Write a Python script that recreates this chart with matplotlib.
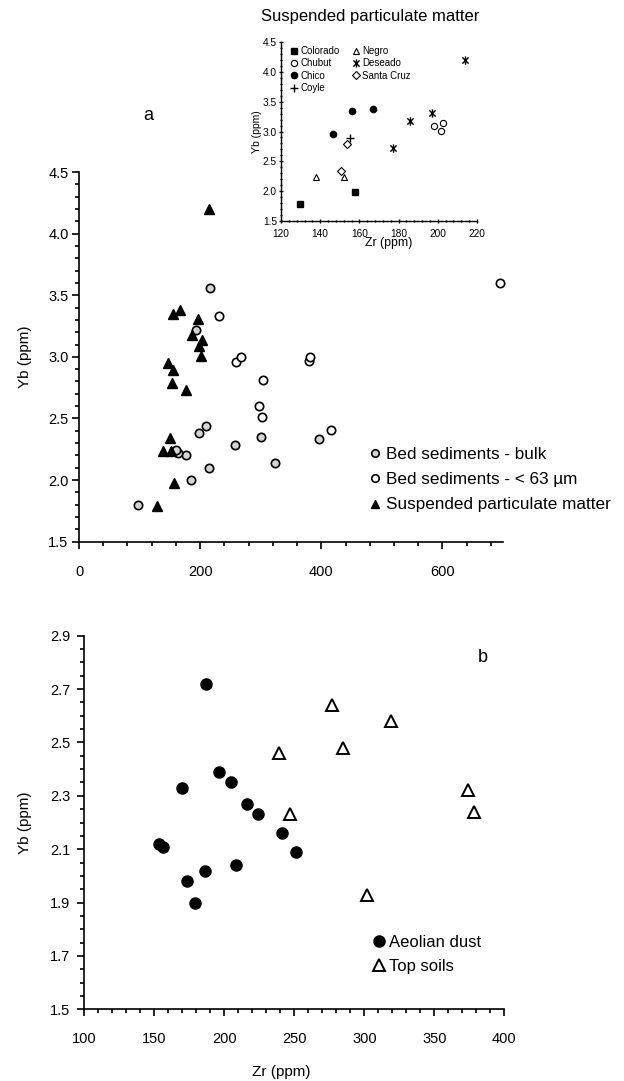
import matplotlib
matplotlib.use("Agg")
import matplotlib.pyplot as plt
from matplotlib.path import Path
from matplotlib.ticker import MultipleLocator, FormatStrFormatter

plt.rcParams["font.family"] = ["Liberation Sans", "DejaVu Sans"]

# ---- Suspended particulate matter, by river (Zr ppm, Yb ppm) ----
colorado_zr = [129.5, 157.5]
colorado_yb = [1.79, 1.98]
negro_zr = [138, 152]
negro_yb = [2.24, 2.24]
chico_zr = [146.5, 156, 167]
chico_yb = [2.95, 3.35, 3.38]
coyle_zr = [155]
coyle_yb = [2.89]
santacruz_zr = [153.5, 150.5]
santacruz_yb = [2.79, 2.34]
chubut_zr = [198, 201.5, 202.5]
chubut_yb = [3.09, 3.01, 3.14]
deseado_zr = [177, 186, 197, 214]
deseado_yb = [2.73, 3.18, 3.31, 4.20]

# ---- Bed sediments ----
bulk_zr = [98, 185, 214, 177, 164, 160, 198, 210, 258, 217, 193, 396, 300, 324]
bulk_yb = [1.80, 2.00, 2.10, 2.20, 2.22, 2.245, 2.385, 2.44, 2.285, 3.56, 3.22, 2.33, 2.35, 2.14]
fine_zr = [231, 260, 267, 304, 297, 302, 379, 381, 416, 695]
fine_yb = [3.33, 2.96, 3.00, 2.815, 2.60, 2.51, 2.97, 3.00, 2.41, 3.60]

# ---- Panel b: aeolian dust and top soils ----
dust_zr = [187, 196, 205, 170, 216, 224, 241, 251, 153, 156, 173, 186, 179, 208]
dust_yb = [2.72, 2.39, 2.35, 2.33, 2.27, 2.23, 2.16, 2.09, 2.12, 2.11, 1.98, 2.02, 1.90, 2.04]
soil_zr = [277, 319, 285, 239, 247, 374, 378, 302]
soil_yb = [2.64, 2.58, 2.48, 2.46, 2.23, 2.32, 2.24, 1.93]

W, H = 624, 1081
fig = plt.figure(figsize=(W / 100, H / 100), dpi=100)


def axes_px(left, top, right, bottom):
    return fig.add_axes([left / W, 1 - bottom / H, (right - left) / W, (bottom - top) / H])


def excel_style(ax, lw=1.2, major=5, minor=3, size=10.5):
    for s in ("top", "right"):
        ax.spines[s].set_visible(False)
    for s in ("left", "bottom"):
        ax.spines[s].set_linewidth(lw)
    ax.tick_params(which="major", direction="out", length=major, width=lw,
                   labelsize=size, colors="black")
    ax.tick_params(which="minor", direction="out", length=minor, width=lw)
    ax.set_facecolor("none")


# asterisk-like marker (vertical bar plus cross)
star = Path([(0, -1), (0, 1), (-0.75, -0.75), (0.75, 0.75), (-0.75, 0.75), (0.75, -0.75)],
            [Path.MOVETO, Path.LINETO] * 3)

spm_zr = colorado_zr + negro_zr + chico_zr + coyle_zr + santacruz_zr + chubut_zr + deseado_zr
spm_yb = colorado_yb + negro_yb + chico_yb + coyle_yb + santacruz_yb + chubut_yb + deseado_yb

# ================= Panel a =================
axa = axes_px(79, 172, 503, 541.7)
excel_style(axa)
axa.set_xlim(0, 700)
axa.set_ylim(1.5, 4.5)
axa.xaxis.set_major_locator(MultipleLocator(200))
axa.xaxis.set_minor_locator(MultipleLocator(40))
axa.yaxis.set_major_locator(MultipleLocator(0.5))
axa.yaxis.set_minor_locator(MultipleLocator(0.1))
axa.yaxis.set_major_formatter(FormatStrFormatter("%.1f"))
axa.tick_params(axis="x", pad=12)
axa.tick_params(axis="y", pad=2.5)

axa.plot(bulk_zr, bulk_yb, "o", ms=6, mfc="#d4d4d4", mec="black", mew=1.2,
         ls="none", label="Bed sediments - bulk", clip_on=False)
axa.plot(fine_zr, fine_yb, "o", ms=6, mfc="white", mec="black", mew=1.2,
         ls="none", label="Bed sediments - < 63 µm", clip_on=False)
axa.plot(spm_zr, spm_yb, "^", ms=7, mfc="black", mec="black", ls="none",
         label="Suspended particulate matter", clip_on=False)
axa.set_ylabel("Yb (ppm)", fontsize=11)
axa.yaxis.set_label_coords(-0.1285, 0.5)
axa.yaxis.label.set_va("center")

axa.legend(loc="upper left", bbox_to_anchor=(370 / W, 1 - 447 / H),
           bbox_transform=fig.transFigure, frameon=False, fontsize=12.3,
           handlelength=0.6, handletextpad=0.35, labelspacing=0.6,
           borderpad=0, borderaxespad=0, markerscale=0.9)

fig.text(148 / W, 1 - 115 / H, "a", fontsize=13, ha="center", va="center")

# ================= Inset =================
axi = axes_px(281, 42, 477, 221)
excel_style(axi, lw=1.0, major=3, minor=2, size=7.3)
axi.tick_params(which="both", direction="inout")
axi.set_xlim(120, 220)
axi.set_ylim(1.5, 4.5)
axi.xaxis.set_major_locator(MultipleLocator(20))
axi.xaxis.set_minor_locator(MultipleLocator(4))
axi.yaxis.set_major_locator(MultipleLocator(0.5))
axi.yaxis.set_minor_locator(MultipleLocator(0.1))
axi.yaxis.set_major_formatter(FormatStrFormatter("%.1f"))
axi.tick_params(axis="x", pad=4)
axi.tick_params(axis="y", pad=1.5)

axi.plot(colorado_zr, colorado_yb, "s", ms=5, mfc="black", mec="black", ls="none", label="Colorado")
axi.plot(chubut_zr, chubut_yb, "o", ms=4.5, mfc="white", mec="black", mew=0.8, ls="none", label="Chubut")
axi.plot(chico_zr, chico_yb, "o", ms=4.5, mfc="black", mec="black", ls="none", label="Chico")
axi.plot(coyle_zr, coyle_yb, "+", ms=6, mec="black", mew=1.0, ls="none", label="Coyle")
axi.plot(negro_zr, negro_yb, "^", ms=5, mfc="white", mec="black", mew=0.8, ls="none", label="Negro")
axi.plot(deseado_zr, deseado_yb, marker=star, ms=6, mec="black", mew=1.0, ls="none", label="Deseado")
axi.plot(santacruz_zr, santacruz_yb, "D", ms=3.8, mfc="white", mec="black", mew=0.8, ls="none", label="Santa Cruz")
axi.set_xlabel("Zr (ppm)", fontsize=8.8)
axi.xaxis.set_label_coords(0.547, -0.125)
axi.xaxis.label.set_va("center")
axi.set_ylabel("Yb (ppm)", fontsize=7.5)
axi.yaxis.set_label_coords(-0.12, 0.5)
axi.yaxis.label.set_va("center")
axi.legend(loc="upper left", bbox_to_anchor=(290 / W, 1 - 46 / H),
           bbox_transform=fig.transFigure, ncol=2, frameon=False, fontsize=7,
           handlelength=0.8, handletextpad=0.3, labelspacing=0.25,
           columnspacing=1.2, borderpad=0, borderaxespad=0)

fig.text(370 / W, 1 - 16 / H, "Suspended particulate matter", fontsize=12,
         ha="center", va="center")

# ================= Panel b =================
axb = axes_px(84.3, 635.7, 504.3, 1009.3)
excel_style(axb)
axb.set_xlim(100, 400)
axb.set_ylim(1.5, 2.9)
axb.xaxis.set_major_locator(MultipleLocator(50))
axb.xaxis.set_minor_locator(MultipleLocator(10))
axb.yaxis.set_major_locator(MultipleLocator(0.2, offset=0.1))
axb.yaxis.set_minor_locator(MultipleLocator(0.05))
axb.yaxis.set_major_formatter(FormatStrFormatter("%.1f"))
axb.tick_params(axis="x", pad=11)
axb.tick_params(axis="y", pad=5)

axb.plot(dust_zr, dust_yb, "o", ms=8, mfc="black", mec="black", ls="none",
         label="Aeolian dust", clip_on=False)
axb.plot(soil_zr, soil_yb, "^", ms=8, mfc="white", mec="black", mew=1.4,
         ls="none", label="Top soils", clip_on=False)
axb.set_ylabel("Yb (ppm)", fontsize=11)
axb.yaxis.set_label_coords(-0.141, 0.5)
axb.yaxis.label.set_va("center")
axb.set_xlabel("Zr (ppm)", fontsize=11)
axb.xaxis.set_label_coords(0.47, -0.167)
axb.xaxis.label.set_va("center")
axb.legend(loc="upper left", bbox_to_anchor=(374 / W, 1 - 935 / H),
           bbox_transform=fig.transFigure, frameon=False, fontsize=12,
           handlelength=0.6, handletextpad=0.3, labelspacing=0.55,
           borderpad=0, borderaxespad=0)

fig.text(483 / W, 1 - 657 / H, "b", fontsize=13, ha="center", va="center")

fig.savefig("out.png", dpi=100, facecolor="white")
